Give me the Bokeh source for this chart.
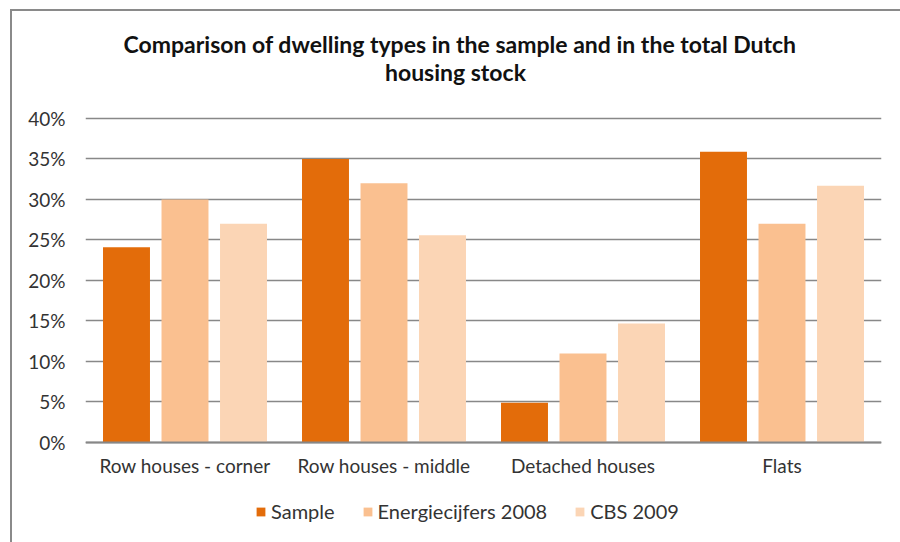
from bokeh.plotting import figure
from bokeh.models import (ColumnDataSource, FactorRange, Legend, LegendItem, Label,
                          PrintfTickFormatter, FixedTicker, Range1d)
from bokeh.transform import dodge
from bokeh.embed import file_html
from bokeh.resources import INLINE

# Dwelling-type shares (%)
categories = ["Row houses - corner", "Row houses - middle", "Detached houses", "Flats"]
sample = [24.1, 35.0, 4.9, 35.9]
energiecijfers_2008 = [30.0, 32.0, 11.0, 27.0]
cbs_2009 = [27.0, 25.6, 14.7, 31.7]
series_names = ["Sample", "Energiecijfers 2008", "CBS 2009"]
y_ticks = [0, 5, 10, 15, 20, 25, 30, 35, 40]
title_lines = ["Comparison of dwelling types in the sample and in the total Dutch", "housing stock"]

colors = ["#E36C0A", "#FAC090", "#FBD5B5"]
FONT = "Lato"
TEXT = "#333333"
FRAME_GREY = "#8a8a8a"

source = ColumnDataSource(dict(cat=categories, s=sample, e=energiecijfers_2008, c=cbs_2009))

# the plot area runs the full height of the page so the title and legend sit inside it;
# the value axis (0-40 %) occupies the band between y=118px and y=442px
p = figure(width=900, height=542, x_range=FactorRange(*categories, range_padding=0),
           y_range=Range1d(-12.346, 54.568), output_backend="svg", toolbar_location=None,
           min_border_left=85, min_border_right=19, min_border_top=0, min_border_bottom=0)
p.title = None
p.outline_line_color = None
p.background_fill_color = None
p.border_fill_color = None
# light grey chart-area frame along the left and top edges
p.styles = {
    "background-color": "white",
    "background-image": f"linear-gradient({FRAME_GREY},{FRAME_GREY}), linear-gradient({FRAME_GREY},{FRAME_GREY})",
    "background-position": "10px 9px, 10px 9px",
    "background-size": "2px 100%, 100% 2px",
    "background-repeat": "no-repeat",
}

offset = 0.294
bar_w = 0.236
renderers = []
for key, off, col in zip(["s", "e", "c"], [-offset, 0, offset], colors):
    r = p.vbar(x=dodge("cat", off, range=p.x_range), top=key, width=bar_w, source=source,
               fill_color=col, line_color=None)
    renderers.append(r)

# axes
p.yaxis.ticker = FixedTicker(ticks=y_ticks)
p.yaxis.formatter = PrintfTickFormatter(format="%d%%")
p.yaxis.axis_line_color = None
p.yaxis.major_tick_line_color = None
p.yaxis.minor_tick_line_color = None
p.yaxis.major_label_standoff = 14
p.yaxis.major_label_text_font = FONT
p.yaxis.major_label_text_font_size = "19px"
p.yaxis.major_label_text_color = TEXT

p.xaxis.fixed_location = 0
p.xaxis.axis_line_color = "#878787"
p.xaxis.axis_line_width = 2
p.xaxis.major_tick_line_color = None
p.xaxis.minor_tick_line_color = None
p.xaxis.major_label_standoff = 6
p.xaxis.major_label_text_font = FONT
p.xaxis.major_label_text_font_size = "19px"
p.xaxis.major_label_text_color = TEXT

p.xgrid.grid_line_color = None
p.ygrid.grid_line_color = "#888888"
p.ygrid.grid_line_width = 1.5

# two-line centred title
for txt, xx, yy in [(title_lines[0], 1.882, 49.25), (title_lines[1], 1.859, 45.8)]:
    p.add_layout(Label(x=xx, y=yy, text=txt, text_align="center", text_baseline="alphabetic",
                       text_font=FONT, text_font_style="bold", text_font_size="23px",
                       text_color="#111111"))

legend = Legend(items=[LegendItem(label=n, renderers=[r]) for n, r in zip(series_names, renderers)],
                orientation="horizontal", location=(170, 19),
                glyph_width=11, glyph_height=11, label_standoff=5, spacing=27,
                padding=0, margin=0, border_line_color=None, background_fill_alpha=0,
                label_text_font=FONT, label_text_font_size="20px", label_text_color=TEXT)
p.add_layout(legend, "center")

open("out.html", "w").write(file_html(p, INLINE))
